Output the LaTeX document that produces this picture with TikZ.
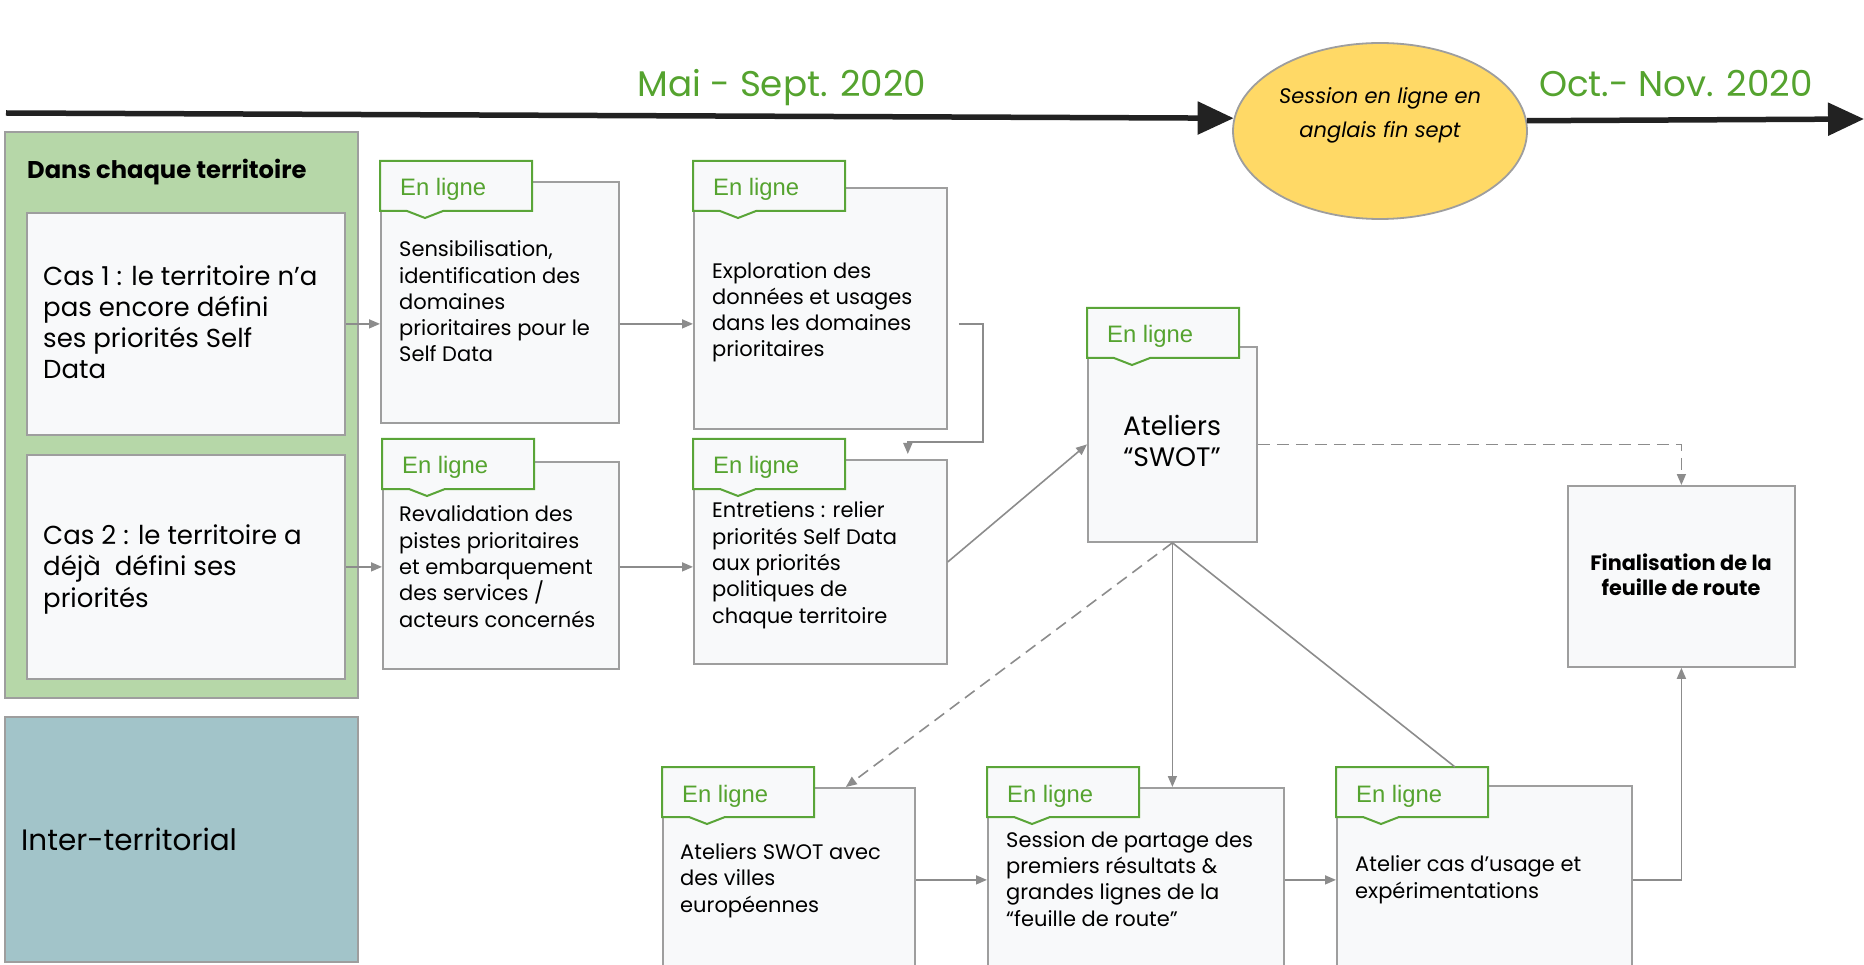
\documentclass[tikz,border=0pt]{standalone}
\usepackage{fontspec}
\setmainfont{Poppins}
\newfontfamily\arialfont{Liberation Sans}
\usetikzlibrary{arrows.meta, positioning, shapes.geometric}

\definecolor{textgreen}{HTML}{55A32F}
\definecolor{tabgreen}{HTML}{5AA538}
\definecolor{boxfill}{HTML}{F8F9FA}
\definecolor{boxline}{HTML}{9E9E9E}
\definecolor{linegray}{HTML}{8C8C8C}
\definecolor{greenfill}{HTML}{B6D7A8}
\definecolor{interfill}{HTML}{A2C4C9}
\definecolor{sessfill}{HTML}{FFD966}
\definecolor{tlblack}{HTML}{222222}

\tikzset{
  box/.style={draw=boxline, fill=boxfill, line width=1.8pt, anchor=north west, inner sep=0pt},
  tabline/.style={draw=tabgreen, fill=boxfill, line width=2pt},
  tabtext/.style={anchor=base west, inner sep=0pt, text=textgreen, font=\arialfont\fontsize{23.8}{28}\selectfont},
  cardtext/.style={anchor=base west, inner sep=0pt, align=left, font=\fontsize{21}{26.3}\selectfont},
  castext/.style={anchor=base west, inner sep=0pt, align=left, font=\fontsize{26}{31.3}\selectfont},
  period/.style={anchor=base, inner sep=0pt, text=textgreen, font=\fontsize{35.7}{40}\selectfont},
  timeline/.style={draw=tlblack, line width=5.5pt, -{Triangle[length=36pt,width=32pt]}},
  flow/.style={draw=linegray, line width=1.6pt, -{Triangle[length=11pt,width=9pt]}},
  dashflow/.style={flow, dash pattern=on 12pt off 7pt},
  plainflow/.style={draw=linegray, line width=1.6pt},
}

% tab "En ligne" with its notch, top left at (#2,#3)
\newcommand{\enligne}[3]{%
  \filldraw[tabline] (#2,#3) coordinate (#1) -- ++(152,0) -- ++(0,50) -- ++(-89,0)
    -- ++(-18,7) -- ++(-18,-7) -- ++(-27,0) -- cycle;
  \node[tabtext] (#1t) at (#2+20,#3+35) {En ligne};
}

\begin{document}
\begin{tikzpicture}[x=1pt, y=-1pt]
  \useasboundingbox (0,0) rectangle (1864,965);

  % Timeline
  \coordinate (tlstart) at (6,113);
  \coordinate (tlend) at (1864,119);
  \node[ellipse, draw=boxline, fill=sessfill, line width=1.8pt, minimum width=294pt, minimum height=176pt] (sess) at (1380,131) {};
  \node[anchor=base, inner sep=0pt, align=center, font=\itshape\fontsize{21}{34}\selectfont] (sesst) at (1380,138) {Session en ligne en\\anglais fin sept};
  \draw[timeline] (tlstart) -- (sess.175);
  \draw[timeline] (sess.4) -- (tlend);
  \node[period] (mai) at (782,97) {Mai - Sept. 2020};
  \node[period] (oct) at (1676,97) {Oct.- Nov. 2020};

  % Territories
  \node[box, fill=greenfill, minimum width=353pt, minimum height=566pt] (terr) at (4,131) {};
  \node[anchor=base west, inner sep=0pt, font=\bfseries\fontsize{24.2}{28}\selectfont] (terrt) at (27,179) {Dans chaque territoire};
  \node[box, minimum width=318pt, minimum height=222pt] (cas1) at (26,212) {};
  \node[castext] (cas1t) at (43,379) {Cas 1 : le territoire n’a\\pas encore défini\\ses priorités Self\\Data};
  \node[box, minimum width=318pt, minimum height=224pt] (cas2) at (26,454) {};
  \node[castext] (cas2t) at (43,607) {Cas 2 : le territoire a\\déjà~ défini ses\\priorités};
  \node[box, fill=interfill, minimum width=353pt, minimum height=245pt] (inter) at (4,716) {};
  \node[anchor=base west, inner sep=0pt, font=\fontsize{29.5}{34}\selectfont] (intert) at (21,850) {Inter-territorial};

  % Steps
  \node[box, minimum width=238pt, minimum height=241pt] (sens) at (380,181) {};
  \enligne{t1}{380}{161}
  \node[cardtext] (senst) at (399,362) {Sensibilisation,\\identification des\\domaines\\prioritaires pour le\\Self Data};

  \node[box, minimum width=253pt, minimum height=241pt] (explo) at (693,187) {};
  \enligne{t2}{693}{161}
  \node[cardtext] (explot) at (712,357) {Exploration des\\données et usages\\dans les domaines\\prioritaires};

  \node[box, minimum width=236pt, minimum height=207pt] (reval) at (382,461) {};
  \enligne{t3}{382}{439}
  \node[cardtext] (revalt) at (399,627) {Revalidation des\\pistes prioritaires\\et embarquement\\des services /\\acteurs concernés};

  \node[box, minimum width=253pt, minimum height=204pt] (entr) at (693,459) {};
  \enligne{t4}{693}{439}
  \node[cardtext] (entrt) at (712,623) {Entretiens : relier\\priorités Self Data\\aux priorités\\politiques de\\chaque territoire};

  \node[box, minimum width=169pt, minimum height=195pt] (swot) at (1087,346) {};
  \enligne{t5}{1087}{308}
  \node[anchor=base, inner sep=0pt, align=center, font=\fontsize{26.7}{32}\selectfont] (swott) at (1172,467) {Ateliers\\“SWOT”};

  \node[box, minimum width=227pt, minimum height=181pt] (final) at (1567,485) {};
  \node[anchor=base, inner sep=0pt, align=center, font=\bfseries\fontsize{20.8}{25}\selectfont] (finalt) at (1681,595) {Finalisation de la\\feuille de route};

  \node[box, minimum width=252pt, minimum height=184pt] (villes) at (662,787) {};
  \enligne{t6}{662}{767}
  \node[cardtext] (villest) at (680,912) {Ateliers SWOT avec\\des villes\\européennes};

  \node[box, minimum width=296pt, minimum height=184pt] (part) at (987,787) {};
  \enligne{t7}{987}{767}
  \node[cardtext] (partt) at (1006,926) {Session de partage des\\premiers résultats \&\\grandes lignes de la\\“feuille de route”};

  \node[box, minimum width=295pt, minimum height=188pt] (usage) at (1336,785) {};
  \enligne{t8}{1336}{767}
  \node[cardtext] (usaget) at (1355,898) {Atelier cas d’usage et\\expérimentations};

  % Connectors
  \draw[flow] (cas1.east) -- (sens.west |- cas1.east);
  \draw[flow] (sens.east |- cas1.east) -- (explo.west |- cas1.east);
  \draw[flow, shorten >=5pt] ([xshift=11pt]explo.east |- cas1.east) -- ++(24,0) -- ++(0,118) -| ([xshift=-40pt]entr.north east);
  \draw[flow] (cas2.east) -- (reval.west |- cas2.east);
  \draw[flow] (reval.east |- cas2.east) -- (entr.west |- cas2.east);
  \draw[flow] (entr.east) -- (swot.west);
  \draw[dashflow] (swot.east) -| (final.north);
  \draw[dashflow] (swot.south) -- ([xshift=-70pt]villes.north east);
  \draw[flow] (swot.south) -- (swot.south |- part.north);
  \draw[plainflow] (swot.south) -- ([xshift=119pt]t8);
  \draw[flow] (villes.east) -- (part.west);
  \draw[flow] (part.east) -- (usage.west);
  \draw[flow] (usage.east) -| (final.south);
\end{tikzpicture}
\end{document}
